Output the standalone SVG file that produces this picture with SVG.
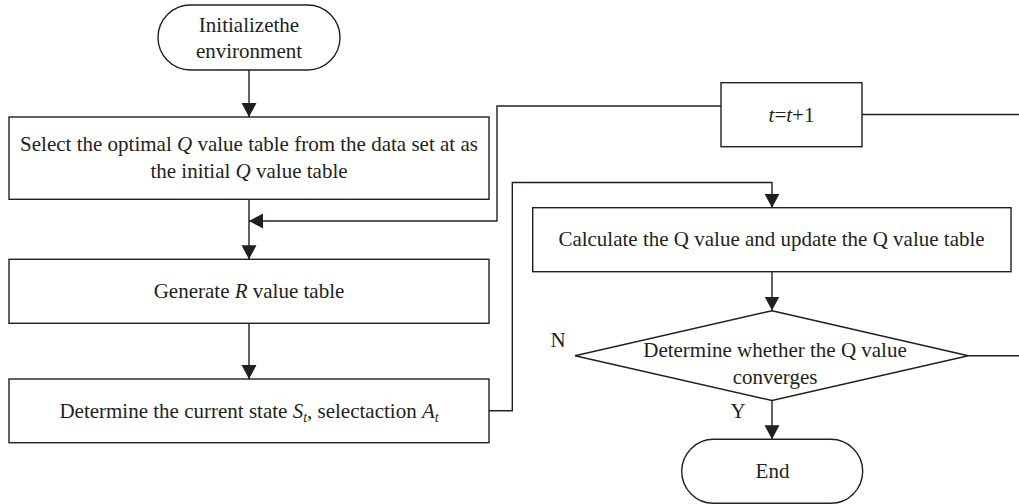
<svg xmlns="http://www.w3.org/2000/svg" width="1019" height="504" viewBox="0 0 1019 504">
  <style>
    .shape { fill: #ffffff; stroke: #231f20; stroke-width: 1.4; }
    .wire { fill: none; stroke: #231f20; stroke-width: 1.4; }
    text { font-family: "Liberation Serif", "Times New Roman", serif; font-size: 21px; fill: #231f20; }
    .mid { text-anchor: middle; }
    .it { font-style: italic; }
    .sub { font-size: 14px; font-style: italic; }
  </style>
  <defs>
    <marker id="arrow" markerUnits="userSpaceOnUse" markerWidth="15" markerHeight="16" refX="14" refY="7.5" orient="auto">
      <path d="M0,0 L14,7.5 L0,15 Z" fill="#231f20"/>
    </marker>
  </defs>

  <rect width="1019" height="504" fill="#ffffff"/>

  <!-- connectors -->
  <g id="connectors">
    <path class="wire" d="M249,70 V117" marker-end="url(#arrow)"/>
    <path class="wire" d="M249,199.3 V259.3" marker-end="url(#arrow)"/>
    <path class="wire" d="M721,106 H497 V221 H249" marker-end="url(#arrow)"/>
    <path class="wire" d="M249,323.3 V379" marker-end="url(#arrow)"/>
    <path class="wire" d="M489,410.7 H512.3 V182.5 H772 V207.7" marker-end="url(#arrow)"/>
    <path class="wire" d="M772,271.7 V310.5" marker-end="url(#arrow)"/>
    <path class="wire" d="M772,400.5 V439.3" marker-end="url(#arrow)"/>
    <path class="wire" d="M968.3,355.7 H1026 V114.5 H862"/>
    <text x="558" y="346.7" class="mid">N</text>
    <text x="738" y="417.5" class="mid">Y</text>
  </g>

  <!-- start terminal -->
  <g id="start">
    <rect class="shape" x="158" y="5" width="182" height="65" rx="32.5" ry="32.5"/>
    <text x="249" y="32.3" class="mid">Initializethe</text>
    <text x="249" y="57.5" class="mid">environment</text>
  </g>

  <!-- initial Q table -->
  <g id="init-q">
    <rect class="shape" x="9" y="117" width="480" height="82.3"/>
    <text x="249" y="150.5" class="mid">Select the optimal <tspan class="it">Q</tspan> value table from the data set at as</text>
    <text x="249" y="178" class="mid">the initial <tspan class="it">Q</tspan> value table</text>
  </g>

  <!-- R table -->
  <g id="gen-r">
    <rect class="shape" x="9" y="259.3" width="480" height="64"/>
    <text x="249" y="298.3" class="mid">Generate <tspan class="it">R</tspan> value table</text>
  </g>

  <!-- state / action -->
  <g id="state-action">
    <rect class="shape" x="9" y="379" width="480" height="63.7"/>
    <text x="249" y="418.3" class="mid">Determine the current state <tspan class="it">S</tspan><tspan class="sub" dy="4">t</tspan><tspan dy="-4">, selectaction </tspan><tspan class="it">A</tspan><tspan class="sub" dy="4">t</tspan></text>
  </g>

  <!-- step counter -->
  <g id="step">
    <rect class="shape" x="721" y="82.7" width="141" height="64"/>
    <text x="791.5" y="122.3" class="mid"><tspan class="it">t</tspan>=<tspan class="it">t</tspan>+1</text>
  </g>

  <!-- Q update -->
  <g id="update-q">
    <rect class="shape" x="532.7" y="207.7" width="478.3" height="64"/>
    <text x="771.5" y="246" class="mid">Calculate the Q value and update the Q value table</text>
  </g>

  <!-- convergence check -->
  <g id="converge">
    <polygon class="shape" points="772,310.7 968.3,355.7 772,400.5 575,355.7"/>
    <text x="775" y="357" class="mid">Determine whether the Q value</text>
    <text x="775" y="383.5" class="mid">converges</text>
  </g>

  <!-- end terminal -->
  <g id="end">
    <rect class="shape" x="681.7" y="439.3" width="181" height="64" rx="32" ry="32"/>
    <text x="772.5" y="478.3" class="mid">End</text>
  </g>
</svg>
